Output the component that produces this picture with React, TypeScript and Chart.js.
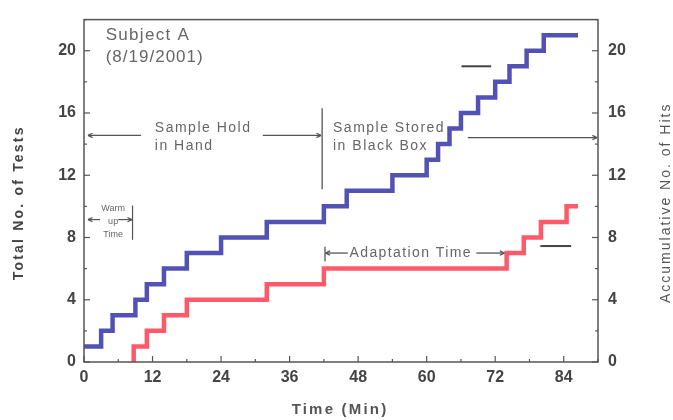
import React, { useEffect, useRef } from 'react';
import { Chart, registerables } from 'chart.js';

Chart.register(...registerables);

// Total No. of Tests (blue step line): minute at which each level starts
const testMinutes = [0, 3, 5, 9, 11, 14, 18, 24, 32, 42, 46, 54, 60, 62, 64, 66, 69, 72, 74.5, 77.5, 80.5, 86.5];
const totalTests = [1, 2, 3, 4, 5, 6, 7, 8, 9, 10, 11, 12, 13, 14, 15, 16, 17, 18, 19, 20, 21, 21];

// Accumulative No. of Hits (red step line)
const hitMinutes = [8.7, 8.7, 11, 14, 18, 32, 42, 74, 77, 80, 84.5, 86.5];
const accumulatedHits = [0, 1, 2, 3, 4, 5, 6, 7, 8, 9, 10, 10];

const xMin = 0;
const xMax = 90;
const xStep = 6;
const xLabelEvery = 12;
const yMin = 0;
const yMax = 22;
const yStep = 2;
const yLabelEvery = 4;

const leftTitle = 'Total No. of Tests';
const rightTitle = 'Accumulative No. of Hits';
const bottomTitle = 'Time (Min)';

const FONT = '"Liberation Sans", Arial, sans-serif';

const decorPlugin = {
  id: 'decor',
  afterDraw(chart: any) {
    const { ctx, chartArea: a, scales } = chart;
    const xs = scales.x;
    const ys = scales.y;
    const X = (v: number) => xs.getPixelForValue(v);
    const Y = (v: number) => ys.getPixelForValue(v);
    ctx.save();

    const line = (x1: number, y1: number, x2: number, y2: number) => {
      ctx.beginPath();
      ctx.moveTo(x1, y1);
      ctx.lineTo(x2, y2);
      ctx.stroke();
    };
    const arrow = (x1: number, y1: number, x2: number, y2: number) => {
      line(x1, y1, x2, y2);
      const ang = Math.atan2(y2 - y1, x2 - x1);
      const s = 5;
      ctx.beginPath();
      ctx.moveTo(x2, y2);
      ctx.lineTo(x2 - s * Math.cos(ang - 0.45), y2 - s * Math.sin(ang - 0.45));
      ctx.moveTo(x2, y2);
      ctx.lineTo(x2 - s * Math.cos(ang + 0.45), y2 - s * Math.sin(ang + 0.45));
      ctx.stroke();
    };
    const text = (t: string, x: number, y: number, font: string, color: string, align: string, spacing: string) => {
      ctx.font = font;
      ctx.fillStyle = color;
      ctx.textAlign = align;
      ctx.textBaseline = 'middle';
      (ctx as any).letterSpacing = spacing;
      ctx.fillText(t, x, y);
      (ctx as any).letterSpacing = '0px';
    };

    // frame
    ctx.strokeStyle = '#555';
    ctx.lineWidth = 1.5;
    ctx.strokeRect(a.left, a.top, a.right - a.left, a.bottom - a.top);

    // inward tick marks
    ctx.lineWidth = 1.2;
    for (let v = xMin; v <= xMax; v += xStep) {
      const len = v % xLabelEvery === 0 ? 6 : 3;
      line(X(v), a.bottom, X(v), a.bottom - len);
    }
    for (let v = yMin; v <= yMax; v += yStep) {
      const len = v % yLabelEvery === 0 ? 6 : 3;
      line(a.left, Y(v), a.left + len, Y(v));
      line(a.right, Y(v), a.right - len, Y(v));
    }

    // annotations
    const grey = '#666';
    ctx.strokeStyle = '#555';
    ctx.lineWidth = 1.3;

    text('Subject A', X(3.8), Y(21.0), `17px ${FONT}`, grey, 'left', '1.3px');
    text('(8/19/2001)', X(3.8), Y(19.6), `17px ${FONT}`, grey, 'left', '1px');

    // Sample hold / stored
    arrow(X(10), Y(14.56), X(0.7), Y(14.56));
    text('Sample Hold', X(12.4), Y(15.0), `14px ${FONT}`, grey, 'left', '1.5px');
    text('in Hand', X(12.4), Y(13.9), `14px ${FONT}`, grey, 'left', '1.5px');
    arrow(X(31.3), Y(14.56), X(41.5), Y(14.56));
    line(X(41.7), Y(16.3), X(41.7), Y(11.1));
    text('Sample Stored', X(43.6), Y(15.0), `14px ${FONT}`, grey, 'left', '1.5px');
    text('in Black Box', X(43.6), Y(13.9), `14px ${FONT}`, grey, 'left', '1.5px');
    arrow(X(67.2), Y(14.42), X(89.8), Y(14.42));

    // legend-like dashes
    ctx.lineWidth = 2;
    ctx.strokeStyle = '#444';
    line(X(66.1), Y(19.0), X(71.3), Y(19.0));
    line(X(79.9), Y(7.45), X(85.3), Y(7.45));

    // warm up time
    ctx.lineWidth = 1.2;
    ctx.strokeStyle = '#555';
    arrow(X(2.8), Y(9.15), X(0.7), Y(9.15));
    arrow(X(6.0), Y(9.15), X(8.4), Y(9.15));
    line(X(8.5), Y(10.05), X(8.5), Y(7.85));
    text('Warm', X(5.1), Y(9.85), `9px ${FONT}`, grey, 'center', '0px');
    text('up', X(5.1), Y(9.0), `9px ${FONT}`, grey, 'center', '0px');
    text('Time', X(5.1), Y(8.2), `9px ${FONT}`, grey, 'center', '0px');

    // adaptation time
    ctx.lineWidth = 1.3;
    line(X(42.2), Y(7.4), X(42.2), Y(6.45));
    arrow(X(46.2), Y(7.0), X(42.3), Y(7.0));
    text('Adaptation Time', X(57.2), Y(7.0), `14px ${FONT}`, grey, 'center', '1.4px');
    arrow(X(68.7), Y(7.0), X(73.6), Y(7.0));

    // axis titles
    ctx.save();
    ctx.translate(19, (a.top + a.bottom) / 2 + 12);
    ctx.rotate(-Math.PI / 2);
    text(leftTitle, 0, 0, `bold 14px ${FONT}`, '#444', 'center', '2.2px');
    ctx.restore();

    ctx.save();
    ctx.translate(666, (a.top + a.bottom) / 2 + 12);
    ctx.rotate(-Math.PI / 2);
    text(rightTitle, 0, 0, `14px ${FONT}`, '#555', 'center', '2px');
    ctx.restore();

    text(bottomTitle, 340, 410, `bold 15px ${FONT}`, '#555', 'center', '2.2px');

    ctx.restore();
  },
};

export default function App() {
  const ref = useRef<HTMLCanvasElement>(null);

  useEffect(() => {
    if (!ref.current) return;
    const tickFont = { family: FONT, size: 16, weight: 'bold' as const };
    const chart = new Chart(ref.current, {
      type: 'line',
      data: {
        datasets: [
          {
            label: 'Total No. of Tests',
            data: testMinutes.map((m, i) => ({ x: m, y: totalTests[i] })),
            borderColor: '#5252b4',
            borderWidth: 4.5,
            stepped: 'before',
            pointRadius: 0,
            fill: false,
            yAxisID: 'y',
            borderJoinStyle: 'miter',
          },
          {
            label: 'Accumulative No. of Hits',
            data: hitMinutes.map((m, i) => ({ x: m, y: accumulatedHits[i] })),
            borderColor: '#ff5a6a',
            borderWidth: 4.5,
            stepped: 'before',
            pointRadius: 0,
            fill: false,
            yAxisID: 'y1',
            borderJoinStyle: 'miter',
          },
        ],
      },
      options: {
        animation: false,
        responsive: false,
        layout: { padding: { top: 15, left: 0, right: 0, bottom: 0 } },
        plugins: { legend: { display: false }, tooltip: { enabled: false } },
        scales: {
          x: {
            type: 'linear',
            min: xMin,
            max: xMax,
            afterFit: (s: any) => { s.height = 58; },
            grid: { display: false, drawTicks: false },
            border: { display: false },
            ticks: {
              stepSize: xStep,
              autoSkip: false,
              maxRotation: 0,
              padding: 6,
              color: '#444',
              font: tickFont,
              callback: (v: any) => (Number(v) % xLabelEvery === 0 && Number(v) <= 84 ? String(v) : ''),
            },
          },
          y: {
            type: 'linear',
            position: 'left',
            min: yMin,
            max: yMax,
            afterFit: (s: any) => { s.width = 84; },
            grid: { display: false, drawTicks: false },
            border: { display: false },
            ticks: {
              stepSize: yStep,
              autoSkip: false,
              padding: 8,
              color: '#444',
              font: tickFont,
              callback: (v: any) => (Number(v) % yLabelEvery === 0 ? String(v) : ''),
            },
          },
          y1: {
            type: 'linear',
            position: 'right',
            min: yMin,
            max: yMax,
            afterFit: (s: any) => { s.width = 75; },
            grid: { display: false, drawTicks: false },
            border: { display: false },
            ticks: {
              stepSize: yStep,
              autoSkip: false,
              padding: 10,
              color: '#444',
              font: tickFont,
              callback: (v: any) => (Number(v) % yLabelEvery === 0 ? String(v) : ''),
            },
          },
        },
      },
      plugins: [decorPlugin],
    } as any);
    return () => chart.destroy();
  }, []);

  return (
    <div style={{ position: 'fixed', left: 0, top: 0, width: 673, height: 420, background: '#fff' }}>
      <canvas ref={ref} width={673} height={420} style={{ display: 'block' }} />
    </div>
  );
}
